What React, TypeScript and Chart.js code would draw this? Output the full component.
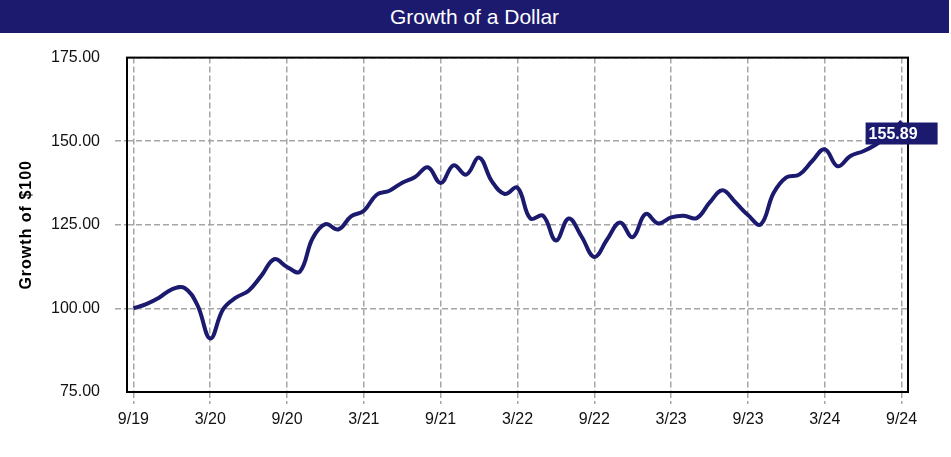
import React, { useEffect, useRef } from "react";
import { Chart, registerables } from "chart.js";

Chart.register(...registerables);

const months: string[] = [
  "9/19", "10/19", "11/19", "12/19", "1/20", "2/20", "3/20", "4/20", "5/20", "6/20", "7/20", "8/20",
  "9/20", "10/20", "11/20", "12/20", "1/21", "2/21", "3/21", "4/21", "5/21", "6/21", "7/21", "8/21",
  "9/21", "10/21", "11/21", "12/21", "1/22", "2/22", "3/22", "4/22", "5/22", "6/22", "7/22", "8/22",
  "9/22", "10/22", "11/22", "12/22", "1/23", "2/23", "3/23", "4/23", "5/23", "6/23", "7/23", "8/23",
  "9/23", "10/23", "11/23", "12/23", "1/24", "2/24", "3/24", "4/24", "5/24", "6/24", "7/24", "8/24",
  "9/24",
];

const growth: number[] = [
  100.0, 101.3, 103.2, 105.7, 106.1, 101.0, 91.0, 99.7, 103.2, 105.3, 109.8, 114.7,
  112.4, 111.0, 121.0, 125.2, 123.6, 127.5, 129.2, 134.0, 135.2, 137.6, 139.3, 142.2,
  137.5, 142.8, 140.0, 145.1, 138.0, 134.2, 136.1, 126.9, 127.7, 120.3, 126.9, 121.5,
  115.4, 120.6, 125.7, 121.3, 128.2, 125.4, 127.2, 127.7, 127.0, 131.6, 135.3, 131.8,
  127.9, 125.1, 134.5, 139.2, 140.0, 144.0, 147.6, 142.5, 145.6, 147.0, 149.0, 152.0,
  155.89,
];

const tickLabels: string[] = ["9/19", "3/20", "9/20", "3/21", "9/21", "3/22", "9/22", "3/23", "9/23", "3/24", "9/24"];

const yTicks: number[] = [75, 100, 125, 150, 175];

const TITLE = "Growth of a Dollar";
const Y_TITLE = "Growth of $100";
const NAVY = "#1b1a6e";
const GRID = "#a6a6a6";
const FONT = "'Liberation Sans', Arial, Helvetica, sans-serif";

export default function App() {
  const canvasRef = useRef<HTMLCanvasElement | null>(null);

  useEffect(() => {
    const canvas = canvasRef.current;
    if (!canvas) return;

    const framePlugin = {
      id: "frame",
      beforeDatasetsDraw(chart: any) {
        const { ctx, chartArea } = chart;
        ctx.save();
        ctx.strokeStyle = "#000";
        ctx.lineWidth = 2;
        ctx.setLineDash([]);
        ctx.strokeRect(chartArea.left, chartArea.top, chartArea.right - chartArea.left, chartArea.bottom - chartArea.top);
        ctx.restore();
      },
      afterDatasetsDraw(chart: any) {
        const { ctx, chartArea } = chart;
        const meta = chart.getDatasetMeta(0);
        const last = meta.data[meta.data.length - 1];
        const val = growth[growth.length - 1];
        ctx.save();
        const w = 72;
        const h = 22;
        const bx = last.x - w / 2;
        const by = last.y + 1;
        ctx.fillStyle = NAVY;
        ctx.fillRect(bx, by, w, h);
        ctx.fillStyle = "#fff";
        ctx.font = `bold 16px ${FONT}`;
        ctx.textAlign = "left";
        ctx.textBaseline = "middle";
        ctx.fillText(val.toFixed(2), bx + 3, by + h / 2 + 1);
        ctx.restore();

        // y axis title
        ctx.save();
        ctx.translate(27, (chartArea.top + chartArea.bottom) / 2);
        ctx.rotate(-Math.PI / 2);
        ctx.font = `bold 16px ${FONT}`;
        (ctx as any).letterSpacing = "1px";
        ctx.fillStyle = "#000";
        ctx.textAlign = "center";
        ctx.textBaseline = "middle";
        ctx.fillText(Y_TITLE, 0, 0);
        ctx.restore();
      },
    };

    const chart = new Chart(canvas, {
      type: "line",
      data: {
        labels: months,
        datasets: [
          {
            data: growth,
            borderColor: NAVY,
            borderWidth: 4,
            pointRadius: 0,
            tension: 0.4,
            fill: false,
          },
        ],
      },
      options: {
        responsive: false,
        animation: false,
        events: [],
        layout: { padding: { top: 20, right: 43, left: 0, bottom: 0 } },
        plugins: {
          legend: { display: false },
          tooltip: { enabled: false },
          title: { display: false },
        },
        scales: {
          x: {
            type: "category",
            offset: true,
            afterFit: (scale: any) => {
              scale.height = 65;
            },
            grid: {
              offset: false,
              color: (c: any) => (c.index % 6 === 0 ? GRID : "rgba(0,0,0,0)"),
              tickColor: (c: any) => (c.index % 6 === 0 ? GRID : "rgba(0,0,0,0)"),
              lineWidth: 1.5,
              tickLength: 12,
              tickBorderDash: [6, 3],
              drawTicks: true,
            },
            border: { display: false, dash: [6, 3] },
            ticks: {
              autoSkip: false,
              maxRotation: 0,
              minRotation: 0,
              padding: 6,
              color: "#111",
              font: { family: FONT, size: 16 },
              callback: (_v: any, i: number) => (i % 6 === 0 ? tickLabels[i / 6] : ""),
            },
          },
          y: {
            min: yTicks[0],
            max: yTicks[yTicks.length - 1],
            afterFit: (scale: any) => {
              scale.width = 127;
            },
            afterBuildTicks: (scale: any) => {
              scale.ticks = yTicks.map((v) => ({ value: v }));
            },
            grid: {
              color: GRID,
              tickColor: (c: any) => (c.index === 0 || c.index === yTicks.length - 1 ? "rgba(0,0,0,0)" : GRID),
              lineWidth: 1.5,
              tickLength: 12,
              tickBorderDash: [6, 3],
            },
            border: { display: false, dash: [6, 3] },
            ticks: {
              padding: 15,
              color: "#111",
              font: { family: FONT, size: 16 },
              callback: (v: any) => Number(v).toFixed(2),
            },
          },
        },
      },
      plugins: [framePlugin],
    });

    return () => chart.destroy();
  }, []);

  return (
    <div style={{ position: "absolute", left: 0, top: 0, width: 951, height: 457, background: "#fff" }}>
      <div
        style={{
          position: "absolute",
          left: 0,
          top: 0,
          width: 949,
          height: 33,
          background: NAVY,
          color: "#fff",
          fontFamily: FONT,
          fontSize: 21,
          lineHeight: "33px",
          textAlign: "center",
        }}
      >
        {TITLE}
      </div>
      <canvas
        ref={canvasRef}
        width={951}
        height={424}
        style={{ position: "absolute", left: 0, top: 33, width: 951, height: 424 }}
      />
    </div>
  );
}
